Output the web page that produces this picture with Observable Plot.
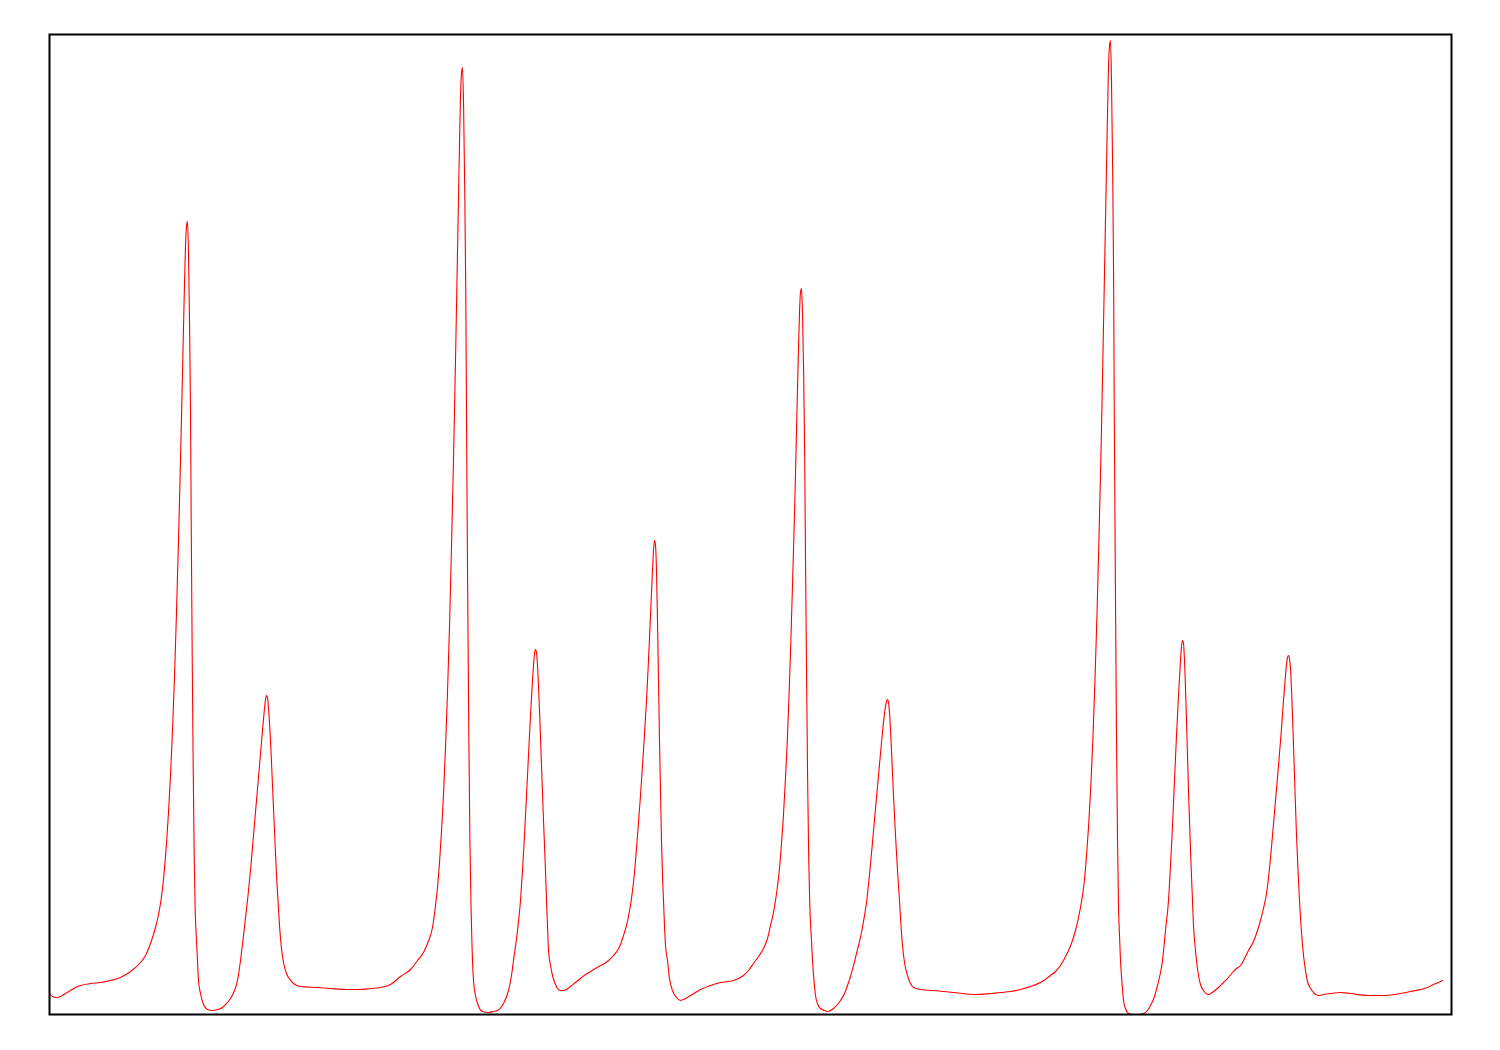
<!DOCTYPE html>
<html>
<head>
<meta charset="utf-8">
<script src="https://cdn.jsdelivr.net/npm/d3@7"></script>
<script src="https://cdn.jsdelivr.net/npm/@observablehq/plot@0.6"></script>
<style>
  html, body { margin: 0; padding: 0; background: #fff; }
  #chart { width: 1500px; height: 1050px; }
</style>
</head>
<body>
<div id="chart"></div>
<script>
// Signal trace: time (t) and value (v), one line per segment
const t = [
  0,3,7,11,16,21,26,31,41,51,61,71,81,91,96,
  101,106,109,111,113,115,117,119,121,123,125,127,129,131,133,134.5,136,137,138,
  139,140,141,141.7,142.7,143.7,144.7,145.7,147,148,149,151,154,158,163,168,173,177,181,185,188,191,194,198,
  201,204,207,210,213,215,216,217,218,219,221,223,225,227,228.5,230,232,234,237,239,244,251,268,281,298,
  311,321,331,341,351,361,368,374,378,383,
  386,388,390,392,394,396,398,400,402,404,406,408,409.5,411,412,413,
  414.1,415.2,416.3,417.1,418.2,419.3,420.4,421.5,422.5,424,426,428,433,439,444,448,454,459,462,464,468,471,
  473,475,477,479,481,483,484,485,486,487,488,490,492,494,496,497,498,499,501,503,506,508,511,514,517,521,526,531,536,541,546,551,555,559,564,568,571,574,577,579,582,
  585,588,591,594,597,599,601,603,604,605,606,607,608,609,610,611,612,613,614,615,616,618,620,623,627,631,636,641,646,651,661,671,684,694,699,704,709,714,718,721,724,
  726,727.9,729.9,731.8,733.7,735.6,737.6,739.5,741.4,743.3,745.3,747.2,748.6,750.1,751,752,
  753.1,754.2,755.2,756,757.1,758.1,759.2,760.3,762,763,764.5,766,768,771,775,778,781,784,788,791,795,798,801,804,807,809,812,814,
  817,820,823,826,829,832,834,836,837,838,839,840,842,844,846,848,850,851.5,853,855,858,861,864,867,871,884,904,924,941,951,961,971,981,991,1001,1006,1011,1015,1019,1023,1026,1029,1031,
  1033,1035.1,1037.1,1039.2,1041.3,1043.4,1045.4,1047.5,1049.6,1051.7,1053.7,1055.8,1057.4,1058.9,1060,1061,
  1062,1063.1,1064.1,1064.8,1065.9,1066.9,1068,1069,1070,1071,1072.5,1074,1076,1079,1083,1088,1094,1098,1101,1105,1108,1111,1113,1116,1119,
  1121,1123,1125,1127,1129,1131,1132,1133,1134,1135,1137,1139,1141,1143,1144,1146,1149,1151,1154,1159,1164,1169,1174,1178,1183,1187,1191,1195,1199,1204,1208,1211,1214,1217,
  1220,1223,1226,1229,1232,1234,1236,1237,1238,1239,1240,1241,1243,1245,1247,1249,1250,1251.5,1253,1256,1258,1261,1265,1269,1274,1281,1291,1301,1318,1334,1351,1361,1371,1378,1384,1389,1393
];
const v = [
  21,18,17,18,21,24,27,29,31,32,34,37,43,52,59,
  71,87,100,111,126,146,171,202,239,284,338,402,474,554,642,709,769,788,793,
  761,694,605,493,359,247,158,104,74,54,34,21,10,5,4,5,7,11,16,24,34,54,79,114,
  144,179,214,249,284,306,315,319,317,306,274,229,184,139,114,89,66,52,41,37,31,28,27,26,25,
  25,26,27,30,38,45,54,62,71,87,
  109,127,152,183,220,267,322,388,467,555,654,762,844,918,941,947,
  908,827,718,582,419,283,174,109,69,34,19,11,3,2,3,4,11,24,39,54,84,114,
  144,179,219,259,299,334,349,361,365,362,349,304,249,194,144,114,89,64,49,39,30,26,24,24,25,28,32,36,40,43,46,49,51,54,59,64,70,79,89,98,116,
  142,179,219,264,314,354,399,444,464,474,469,444,394,334,274,224,174,139,114,89,69,54,36,24,17,14,16,19,22,25,29,32,34,39,44,51,58,66,76,89,102,
  114,127.5,145,168,195,229,269,318,375,440,512,591,651,705,722,726,
  697,638,558,458,337,237,157,109,74,54,34,19,11,6,4,3,4,6,10,14,21,29,38,49,61,69,82,93,
  112,140,172,206,239,272,292,308,313,315,312,302,264,219,179,144,114,89,69,52,39,31,27,26,25,24,22,20,21,22,23,25,28,32,39,43,49,56,64,74,84,97,107,
  119,136,160,190,228,276,332,400,481,571,673,784,868,944,968,974,
  933,850,738,598,429,289,176,109,79,54,32,14,6,1,0,0,1,4,9,18,29,42,54,84,114,
  149,189,234,279,319,354,368,374,371,354,294,224,164,114,89,64,39,30,24,20,23,27,32,36,42,46,49,56,64,73,84,94,106,121,
  146,179,214,249,286,314,339,350,357,359,356,346,299,239,179,134,114,89,69,44,33,26,21,19,20,21,22,21,19,19,21,23,25,27,30,32,34
];

const data = t.map((ti, i) => ({t: ti, v: v[i]}));

const chart = Plot.plot({
  width: 1500,
  height: 1050,
  marginLeft: 49,
  marginRight: 49,
  marginTop: 34,
  marginBottom: 36,
  x: {domain: [0, 1402], axis: null},
  y: {domain: [0, 980], axis: null},
  style: {background: "#fff"},
  marks: [
    Plot.line(data, {x: "t", y: "v", stroke: "#ff0000", strokeWidth: 1.1, curve: "monotone-x"}),
    Plot.frame({stroke: "#000", strokeWidth: 2})
  ]
});
document.getElementById("chart").appendChild(chart);
if (t.length !== v.length) console.error("length mismatch", t.length, v.length);
</script>
</body>
</html>
